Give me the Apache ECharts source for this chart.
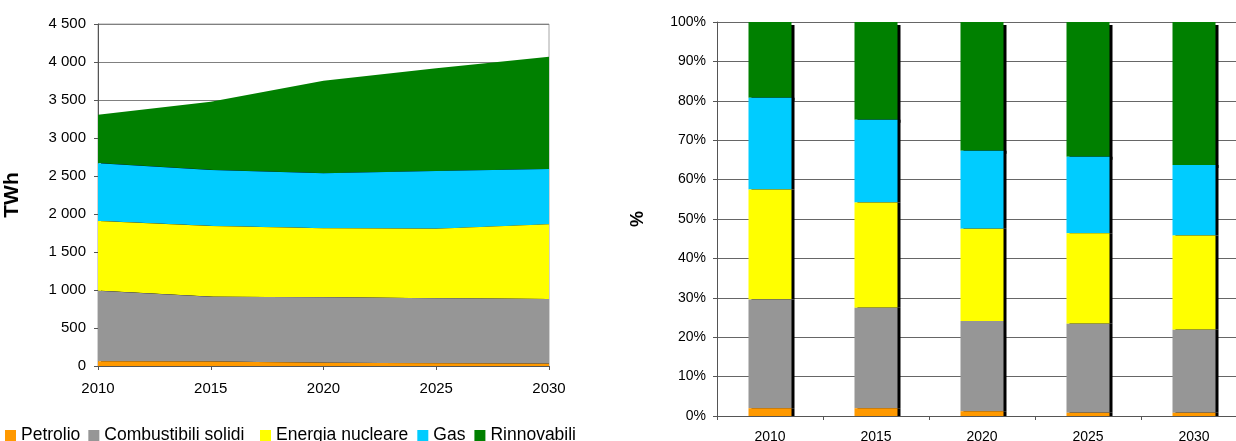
<!DOCTYPE html>
<html>
<head>
<meta charset="utf-8">
<script src="https://cdn.jsdelivr.net/npm/echarts@6/dist/echarts.min.js"></script>
<style>
html,body{margin:0;padding:0;background:#fff;}
#c{width:1236px;height:441px;}
</style>
</head>
<body>
<div id="c"></div>
<script>
var years = ['2010', '2015', '2020', '2025', '2030'];
var seriesNames = ['Petrolio', 'Combustibili solidi', 'Energia nucleare', 'Gas', 'Rinnovabili'];
var colors = ['#FF9900', '#969696', '#FFFF00', '#00CCFF', '#008000'];

// TWh (left, stacked area)
var petrolioTWh = [62, 60, 42, 35, 30];
var solidiTWh = [929, 852, 863, 855, 852];
var nucleareTWh = [917, 930, 907, 917, 982];
var gasTWh = [759, 737, 723, 759, 728];
var rinnovabiliTWh = [640, 899, 1219, 1351, 1478];

// Shares % (right, stacked bars)
var petrolioPct = [1.95, 1.95, 1.2, 0.85, 0.85];
var solidiPct = [27.65, 25.55, 22.9, 22.55, 21.05];
var nuclearePct = [27.9, 26.7, 23.4, 23.0, 23.9];
var gasPct = [23.3, 21.0, 19.8, 19.4, 17.9];
var rinnovabiliPct = [19.2, 24.8, 32.7, 34.2, 36.3];

var yTicksLeft = {min: 0, max: 4500, interval: 500};
var yTicksRight = {min: 0, max: 100, interval: 10};

var twh = [petrolioTWh, solidiTWh, nucleareTWh, gasTWh, rinnovabiliTWh];
var pct = [petrolioPct, solidiPct, nuclearePct, gasPct, rinnovabiliPct];

var FONT = 'Liberation Sans, Arial, sans-serif';

function fmtThousands(v) {
  var s = String(v);
  return s.replace(/\B(?=(\d{3})+(?!\d))/g, ' ');
}

var series = [];
for (var i = 0; i < 5; i++) {
  var isTopArea = (i === 4);
  series.push({
    name: seriesNames[i],
    type: 'line',
    stack: 'twh',
    xAxisIndex: 0,
    yAxisIndex: 0,
    symbol: 'none',
    z: isTopArea ? 1 : 2 + (5 - i),
    lineStyle: {width: 0},
    areaStyle: {
      color: colors[i],
      opacity: 1,
      shadowColor: '#000',
      shadowBlur: 0,
      shadowOffsetX: 3,
      shadowOffsetY: isTopArea ? 3 : 0
    },
    itemStyle: {color: colors[i]},
    data: twh[i]
  });
}
for (var j = 0; j < 5; j++) {
  var isTopBar = (j === 4);
  series.push({
    name: seriesNames[j],
    type: 'bar',
    stack: 'pct',
    xAxisIndex: 1,
    yAxisIndex: 1,
    barWidth: 43,
    z: isTopBar ? 1 : 2 + (5 - j),
    itemStyle: {
      color: colors[j],
      shadowColor: '#000',
      shadowBlur: 0,
      shadowOffsetX: 3,
      shadowOffsetY: isTopBar ? 3 : 0
    },
    data: pct[j]
  });
}

var legendText = {fontFamily: FONT, fontSize: 17.5, color: '#000'};

var chart = echarts.init(document.getElementById('c'), null, {renderer: 'canvas'});
chart.setOption({
  animation: false,
  backgroundColor: '#fff',
  textStyle: {fontFamily: FONT},
  legend: [
    {
      left: 0, top: 421.5, itemWidth: 11, itemHeight: 11, itemGap: 8, icon: 'rect',
      data: seriesNames.slice(0, 2), textStyle: legendText
    },
    {
      left: 255, top: 421.5, itemWidth: 11, itemHeight: 11, itemGap: 9, icon: 'rect',
      data: seriesNames.slice(2), textStyle: legendText
    }
  ],
  grid: [
    {left: 98, top: 24, width: 451, height: 342, outerBoundsMode: 'none', containLabel: false, show: true, borderColor: '#a6a6a6', borderWidth: 1, backgroundColor: 'transparent'},
    {left: 717, top: 22, width: 530, height: 394, outerBoundsMode: 'none', containLabel: false}
  ],
  xAxis: [
    {
      type: 'category', gridIndex: 0, data: years, boundaryGap: false,
      axisLine: {lineStyle: {color: '#555', width: 1}},
      axisTick: {show: true, length: 4, lineStyle: {color: '#555'}},
      axisLabel: {fontFamily: FONT, fontSize: 15, color: '#000', margin: 15},
      splitLine: {show: false}
    },
    {
      type: 'category', gridIndex: 1, data: years,
      axisLine: {lineStyle: {color: '#555', width: 1}},
      axisTick: {show: true, length: 4, lineStyle: {color: '#555'}},
      axisLabel: {fontFamily: FONT, fontSize: 14, color: '#000', margin: 14},
      splitLine: {show: false}
    }
  ],
  yAxis: [
    {
      type: 'value', gridIndex: 0,
      min: yTicksLeft.min, max: yTicksLeft.max, interval: yTicksLeft.interval,
      name: 'TWh', nameLocation: 'middle', nameGap: 75,
      nameTextStyle: {fontFamily: FONT, fontSize: 21, fontWeight: 'bold', color: '#000'},
      axisLine: {show: true, lineStyle: {color: '#555', width: 1}},
      axisTick: {show: true, length: 4, lineStyle: {color: '#555'}},
      axisLabel: {fontFamily: FONT, fontSize: 15, color: '#000', margin: 12, formatter: fmtThousands},
      splitLine: {show: true, lineStyle: {color: '#808080', width: 1}}
    },
    {
      type: 'value', gridIndex: 1,
      min: yTicksRight.min, max: yTicksRight.max, interval: yTicksRight.interval,
      name: '%', nameLocation: 'middle', nameGap: 70,
      nameTextStyle: {fontFamily: FONT, fontSize: 18, fontWeight: 'bold', color: '#000'},
      axisLine: {show: true, lineStyle: {color: '#555', width: 1}},
      axisTick: {show: true, length: 4, lineStyle: {color: '#555'}},
      axisLabel: {fontFamily: FONT, fontSize: 14, color: '#000', margin: 11, formatter: '{value}%'},
      splitLine: {show: true, lineStyle: {color: '#666', width: 1}}
    }
  ],
  series: series
});
</script>
</body>
</html>
